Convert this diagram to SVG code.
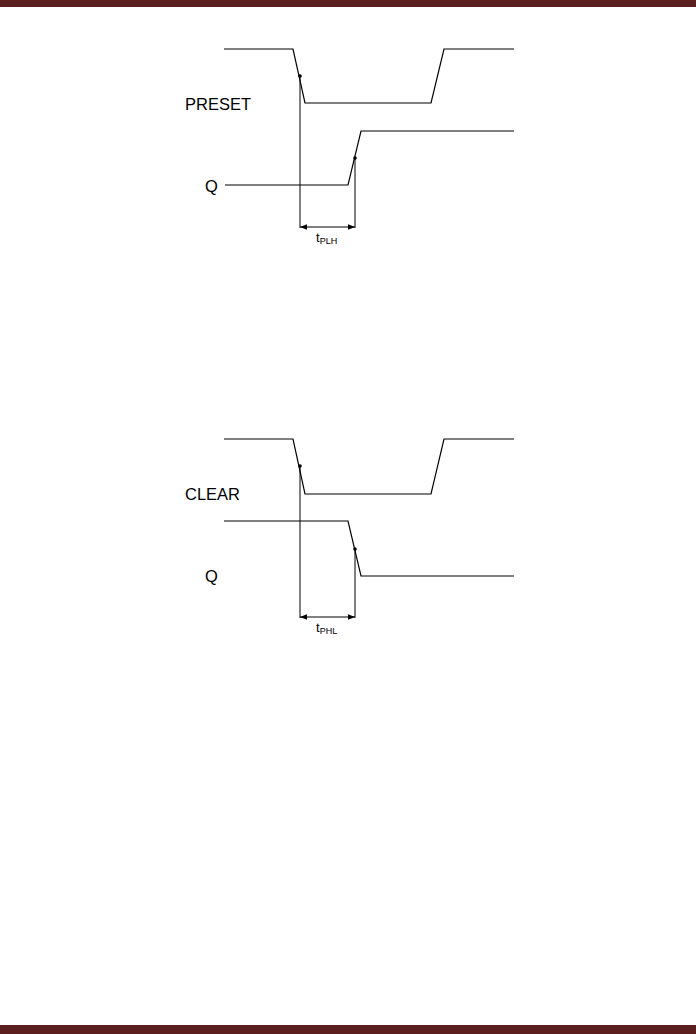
<svg xmlns="http://www.w3.org/2000/svg" width="696" height="1034" viewBox="0 0 696 1034">
<style>
.w{fill:none;stroke:#000;stroke-width:1.2}
.v{fill:none;stroke:#000;stroke-width:1}
.lbl{font-family:"Liberation Sans",Arial,sans-serif;font-size:16.5px;fill:#000}
.t{font-family:"Liberation Sans",Arial,sans-serif;font-size:13px;fill:#000}
.s{font-size:9px}
</style>
<defs>
<marker id="ah" viewBox="0 0 10 10" refX="10" refY="5" markerWidth="7" markerHeight="7" orient="auto-start-reverse" markerUnits="userSpaceOnUse">
<path d="M0,1 L10,5 L0,9 z" fill="#000"/>
</marker>
</defs>
<rect x="0" y="0" width="696" height="7" fill="#5c1f1f"/>
<rect x="0" y="1025" width="696" height="9" fill="#5c1f1f"/>
<g id="preset-timing">
<text class="lbl" x="185" y="110">PRESET</text>
<text class="lbl" x="205" y="192">Q</text>
<polyline class="w" points="224,49 293,49 305,103 431,103 444,49 514,49"/>
<polyline class="w" points="225,185 348,185 361,131 514,131"/>
<circle cx="300" cy="76" r="1.8" fill="#000"/>
<circle cx="355" cy="158" r="1.8" fill="#000"/>
</g>
<g id="clear-timing">
<text class="lbl" x="185" y="500">CLEAR</text>
<text class="lbl" x="205" y="582">Q</text>
<polyline class="w" points="224,439 293,439 305,494 431,494 444,439 514,439"/>
<polyline class="w" points="224,521 348,521 361,576 514,576"/>
<circle cx="300" cy="466" r="1.8" fill="#000"/>
<circle cx="355" cy="549" r="1.8" fill="#000"/>
</g>
<g id="connectors">
<line class="v" x1="300" y1="76" x2="300" y2="228"/>
<line class="v" x1="355" y1="158" x2="355" y2="228"/>
<line class="v" x1="300" y1="227" x2="355" y2="227" marker-start="url(#ah)" marker-end="url(#ah)"/>
<line class="v" x1="300" y1="466" x2="300" y2="618"/>
<line class="v" x1="355" y1="549" x2="355" y2="618"/>
<line class="v" x1="300" y1="617" x2="355" y2="617" marker-start="url(#ah)" marker-end="url(#ah)"/>
</g>
<g id="label-tplh">
<text class="t" x="316" y="242">t<tspan class="s" dy="2">PLH</tspan></text>
</g>
<g id="label-tphl">
<text class="t" x="316" y="632">t<tspan class="s" dy="2">PHL</tspan></text>
</g>
</svg>
